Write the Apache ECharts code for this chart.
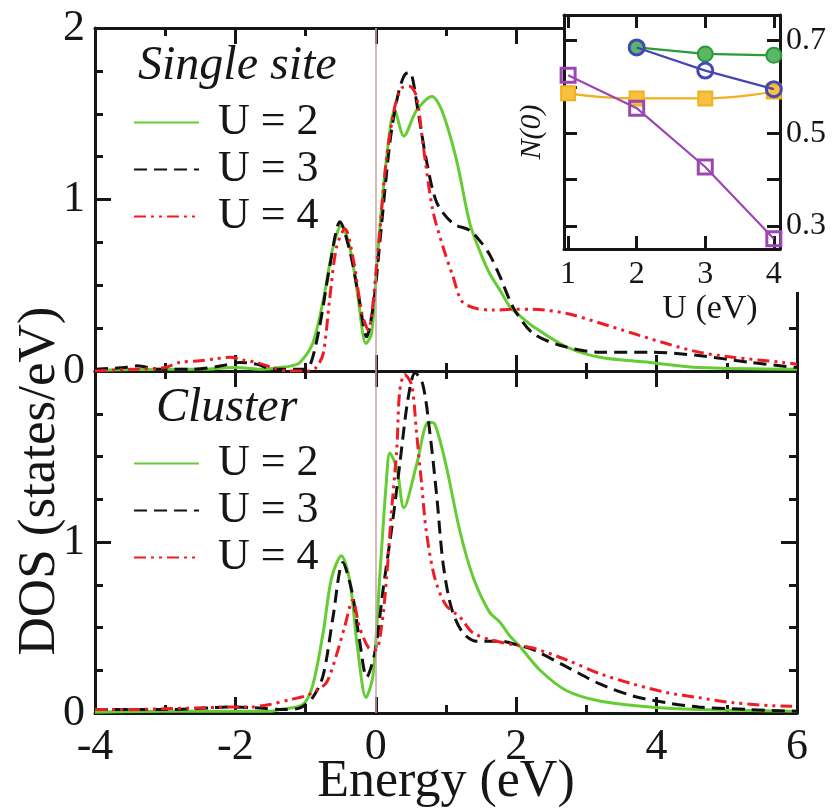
<!DOCTYPE html>
<html><head><meta charset="utf-8">
<script src="https://cdn.jsdelivr.net/npm/echarts@6/dist/echarts.min.js"></script>
<style>html,body{margin:0;padding:0;background:#fff}#c{width:834px;height:811px}</style>
</head><body><div id="c"></div>
<script>
// ---------- data ----------
const seriesNames = ['U = 2', 'U = 3', 'U = 4'];
const energyTicks = [-4, -2, 0, 2, 4, 6];
const dosTicks = [0, 1, 2];

// Single site DOS: [energy (eV), DOS (states/eV)]
const singleU2 = [[-4,0.005],[-3,0.01],[-2.5,0.01],[-2,0.02],[-1.6,0.01],[-1.37,0.02],[-1.2,0.03],[-1.08,0.05],[-0.9,0.16],[-0.75,0.41],[-0.61,0.72],[-0.49,0.85],[-0.37,0.72],[-0.26,0.45],[-0.14,0.16],[-0.06,0.22],[0.03,0.70],[0.15,1.23],[0.27,1.52],[0.4,1.37],[0.58,1.52],[0.8,1.60],[0.94,1.52],[1.15,1.23],[1.34,0.86],[1.5,0.68],[1.62,0.57],[1.77,0.47],[1.9,0.38],[2.0,0.34],[2.24,0.26],[2.72,0.14],[3.19,0.08],[3.9,0.05],[4.6,0.02],[6,0.01]];
const singleU3 = [[-4,0.01],[-3.6,0.02],[-3.4,0.03],[-3.1,0.01],[-2.6,0.01],[-2.2,0.03],[-1.95,0.05],[-1.7,0.04],[-1.45,0.01],[-1.05,0.01],[-0.94,0.03],[-0.8,0.26],[-0.66,0.60],[-0.51,0.87],[-0.37,0.70],[-0.25,0.45],[-0.13,0.20],[-0.03,0.40],[0.06,0.76],[0.2,1.33],[0.3,1.58],[0.39,1.71],[0.46,1.74],[0.51,1.73],[0.6,1.52],[0.72,1.23],[0.87,0.98],[1.1,0.86],[1.34,0.82],[1.5,0.75],[1.62,0.68],[1.77,0.55],[1.9,0.42],[2.0,0.34],[2.24,0.22],[2.62,0.15],[3.19,0.11],[3.9,0.11],[4.6,0.09],[5.33,0.05],[6,0.02]];
const singleU4 = [[-4,0.0],[-3.5,0.01],[-3.0,0.02],[-2.8,0.05],[-2.5,0.06],[-2.3,0.07],[-2.08,0.08],[-1.9,0.065],[-1.7,0.05],[-1.47,0.02],[-1.25,0.0],[-0.95,0.0],[-0.85,0.02],[-0.75,0.10],[-0.66,0.41],[-0.56,0.72],[-0.44,0.83],[-0.32,0.65],[-0.2,0.34],[-0.11,0.24],[0.01,0.61],[0.15,1.23],[0.27,1.54],[0.37,1.65],[0.48,1.66],[0.58,1.6],[0.67,1.33],[0.81,0.94],[0.96,0.72],[1.1,0.55],[1.22,0.41],[1.38,0.37],[1.67,0.355],[1.95,0.36],[2.24,0.36],[2.72,0.335],[3.19,0.28],[3.66,0.22],[4.14,0.16],[4.6,0.11],[5.09,0.08],[5.8,0.05],[6,0.04]];

// Cluster DOS
const clusterU2 = [[-4,0.005],[-3,0.01],[-2,0.01],[-1.5,0.01],[-1.37,0.02],[-1.04,0.05],[-0.9,0.16],[-0.75,0.47],[-0.63,0.79],[-0.49,0.92],[-0.37,0.77],[-0.26,0.38],[-0.14,0.09],[-0.04,0.22],[0.06,0.82],[0.15,1.35],[0.2,1.52],[0.3,1.43],[0.4,1.2],[0.58,1.45],[0.75,1.70],[0.84,1.69],[1.0,1.45],[1.2,1.06],[1.39,0.79],[1.62,0.59],[1.77,0.53],[1.91,0.45],[2.05,0.39],[2.34,0.25],[2.72,0.13],[3.19,0.07],[3.9,0.035],[4.6,0.02],[6,0.01]];
const clusterU3 = [[-4,0.02],[-3,0.02],[-2.0,0.035],[-1.7,0.03],[-1.3,0.02],[-1.08,0.03],[-0.9,0.09],[-0.75,0.22],[-0.61,0.56],[-0.47,0.88],[-0.34,0.71],[-0.23,0.42],[-0.13,0.21],[-0.01,0.36],[0.1,0.71],[0.24,1.12],[0.34,1.45],[0.46,1.84],[0.56,1.99],[0.67,1.92],[0.77,1.64],[0.87,1.26],[0.96,0.87],[1.08,0.61],[1.24,0.47],[1.44,0.42],[1.77,0.42],[2.0,0.40],[2.24,0.37],[2.72,0.27],[3.19,0.17],[3.66,0.10],[4.14,0.06],[4.6,0.035],[5.33,0.02],[6,0.01]];
const clusterU4 = [[-4,0.02],[-3.5,0.02],[-3,0.025],[-2.5,0.03],[-2,0.035],[-1.8,0.035],[-1.51,0.05],[-1.2,0.08],[-1.0,0.1],[-0.85,0.13],[-0.7,0.18],[-0.56,0.34],[-0.44,0.51],[-0.33,0.66],[-0.23,0.50],[-0.1,0.38],[0.0,0.37],[0.08,0.5],[0.15,0.77],[0.22,1.16],[0.3,1.55],[0.34,1.88],[0.41,1.98],[0.51,1.92],[0.58,1.64],[0.65,1.35],[0.72,1.06],[0.84,0.79],[1.0,0.63],[1.2,0.56],[1.38,0.47],[1.62,0.43],[1.95,0.40],[2.24,0.38],[2.72,0.31],[3.19,0.23],[3.66,0.17],[4.14,0.12],[4.6,0.09],[5.09,0.06],[5.9,0.04],[6,0.04]];

// Inset: N(0) vs U
const insetU = [1, 2, 3, 4];
const insetGreen  = [null, 0.685, 0.671, 0.668];
const insetBlue   = [null, 0.685, 0.635, 0.595];
const insetPurple = [0.625, 0.554, 0.427, 0.272];
const insetOrange = [0.586, 0.575, 0.575, 0.590];
const insetYTicks = [0.3, 0.4, 0.5, 0.6, 0.7];
const insetYLabels = [0.3, 0.5, 0.7];

// ---------- chart ----------
const FONT = '"Liberation Serif", "Times New Roman", Times, serif';
const INK = '#161616';
const pairs = (xs, ys) => xs.map((x, i) => [x, ys[i]]).filter(p => p[1] !== null);

const chart = echarts.init(document.getElementById('c'), null, {renderer: 'canvas'});

const axisLineStyle = {show: true, onZero: false, lineStyle: {color: INK, width: 3}};

function mainX(grid, pos, labels) {
  return {
    type: 'value', gridIndex: grid, position: pos, min: -4, max: 6, interval: 2,
    axisLine: axisLineStyle,
    axisTick: {show: true, inside: true, length: 16, lineStyle: {color: INK, width: 3}},
    minorTick: {show: true, splitNumber: 2, length: 8, lineStyle: {color: INK, width: 3}},
    axisLabel: {show: labels, margin: 12, fontFamily: FONT, fontSize: 44, color: INK,
      formatter: v => energyTicks.includes(v) ? String(v) : ''},
    splitLine: {show: false}
  };
}
function mainY(grid, pos, labels, hideMax) {
  return {
    type: 'value', gridIndex: grid, position: pos, min: 0, max: 2, interval: 1,
    axisLine: axisLineStyle,
    axisTick: {show: true, inside: true, length: 16, lineStyle: {color: INK, width: 3}},
    minorTick: {show: true, splitNumber: 4, length: 8, lineStyle: {color: INK, width: 3}},
    axisLabel: {show: labels, margin: 10, fontFamily: FONT, fontSize: 44, color: INK,
      showMaxLabel: !hideMax,
      formatter: v => dosTicks.includes(v) ? String(v) : ''},
    splitLine: {show: false}
  };
}
const insetAxisCommon = {
  axisLine: axisLineStyle,
  splitLine: {show: false}, z: 12
};
function insetX(pos, labels) {
  return Object.assign({}, insetAxisCommon, {
    type: 'value', gridIndex: 2, position: pos, min: 0.94, max: 4.09,
    axisTick: {show: true, inside: true, length: 13, customValues: insetU, lineStyle: {color: INK, width: 3}},
    axisLabel: {show: labels, customValues: insetU, margin: 10, fontFamily: FONT, fontSize: 32, color: INK},
    name: labels ? 'U (eV)' : '', nameLocation: 'middle', nameGap: 43,
    nameTextStyle: {fontFamily: FONT, fontSize: 34, color: INK, padding: [0, 0, 0, 76]}
  });
}
function insetY(pos, labels) {
  return Object.assign({}, insetAxisCommon, {
    type: 'value', gridIndex: 2, position: pos, min: 0.25, max: 0.755,
    axisTick: {show: true, inside: true, length: 13, customValues: insetYTicks, lineStyle: {color: INK, width: 3}},
    axisLabel: {show: labels, customValues: insetYLabels, margin: 6, fontFamily: FONT, fontSize: 32, color: INK,
      formatter: v => v.toFixed(1)},
    name: pos === 'left' ? 'N(0)' : '', nameLocation: 'middle', nameGap: 17, nameRotate: 90,
    nameTextStyle: {fontFamily: FONT, fontSize: 30, fontStyle: 'italic', color: INK}
  });
}

function dosLine(name, data, xi, yi, kind) {
  const styles = {
    g: {color: '#66cc33', width: 3, type: 'solid'},
    k: {color: '#111111', width: 3, type: [13, 7]},
    r: {color: '#ee1c25', width: 3, type: [12, 5, 3, 5, 3, 5]}
  };
  return {
    type: 'line', name: name, data: data, xAxisIndex: xi, yAxisIndex: yi,
    showSymbol: false, symbol: 'none', smooth: 0.3, clip: true,
    lineStyle: styles[kind], itemStyle: {color: styles[kind].color},
    z: kind === 'g' ? 3 : (kind === 'k' ? 4 : 5)
  };
}
function zeroLine() {
  return {silent: true, symbol: 'none', label: {show: false},
    lineStyle: {color: '#c9a2a2', width: 1.5, type: 'solid'}, data: [{xAxis: 0}]};
}

const top1 = dosLine('U = 2', singleU2, 0, 0, 'g'); top1.markLine = zeroLine();
const bot1 = dosLine('U = 2', clusterU2, 2, 2, 'g'); bot1.markLine = zeroLine();

function insetSeries(name, ys, color, symbol, filled, smooth, z) {
  return {
    type: 'line', name: name, xAxisIndex: 4, yAxisIndex: 4, data: pairs(insetU, ys),
    symbol: symbol, symbolSize: symbol === 'rect' ? 14 : 15, showSymbol: true, smooth: smooth,
    lineStyle: {color: color, width: 2.2},
    itemStyle: filled ? {color: filled, borderColor: color, borderWidth: 2}
                      : {color: 'rgba(255,255,255,0)', borderColor: color, borderWidth: 3},
    z: z, clip: false
  };
}

const legendBase = {
  orient: 'vertical', left: 133, padding: 0, itemWidth: 65, itemHeight: 12, itemGap: 0,
  selectedMode: false, data: seriesNames,
  itemStyle: {opacity: 0},
  textStyle: {fontFamily: FONT, fontSize: 44, color: INK, lineHeight: 47, padding: [0, 0, 0, 14]}
};

chart.setOption({
  backgroundColor: '#fff',
  animation: false,
  grid: [
    {left: 95, top: 28, width: 702, height: 343},
    {left: 95, top: 371, width: 702, height: 342},
    {left: 564, top: 15, width: 216, height: 234, show: true, backgroundColor: '#fff', borderWidth: 0, z: 10}
  ],
  xAxis: [mainX(0, 'bottom', false), mainX(0, 'top', false), mainX(1, 'bottom', true), mainX(1, 'top', false),
    insetX('bottom', true), insetX('top', false)],
  yAxis: [mainY(0, 'left', true, false), mainY(0, 'right', false, false), mainY(1, 'left', true, true), mainY(1, 'right', false, false),
    insetY('left', false), insetY('right', true)],
  legend: [
    Object.assign({}, legendBase, {top: 99}),
    Object.assign({}, legendBase, {top: 440})
  ],
  graphic: [
    {type: 'rect', z: 8, silent: true, shape: {x: 563, y: 0, width: 271, height: 292}, style: {fill: '#fff'}},
    {type: 'text', z: 20, x: 138, y: 66, style: {text: 'Single site', fontFamily: FONT, fontStyle: 'italic', fontSize: 48, fill: INK, verticalAlign: 'middle'}},
    {type: 'text', z: 20, x: 156, y: 408, style: {text: 'Cluster', fontFamily: FONT, fontStyle: 'italic', fontSize: 48, fill: INK, verticalAlign: 'middle'}},
    {type: 'text', z: 20, x: 40, y: 481, rotation: Math.PI / 2, style: {text: 'DOS (states/eV)', fontFamily: FONT, fontSize: 53, fill: INK, align: 'center', verticalAlign: 'middle'}},
    {type: 'text', z: 20, x: 446, y: 782, style: {text: 'Energy (eV)', fontFamily: FONT, fontSize: 52, fill: INK, align: 'center', verticalAlign: 'middle'}}
  ],
  series: [
    top1,
    dosLine('U = 3', singleU3, 0, 0, 'k'),
    dosLine('U = 4', singleU4, 0, 0, 'r'),
    bot1,
    dosLine('U = 3', clusterU3, 2, 2, 'k'),
    dosLine('U = 4', clusterU4, 2, 2, 'r'),
    insetSeries('N0 orange', insetOrange, '#f2b01e', 'rect', '#f6c040', true, 13),
    insetSeries('N0 purple', insetPurple, '#9b47b3', 'rect', null, false, 14),
    insetSeries('N0 green', insetGreen, '#2a9a3a', 'circle', '#5bb765', false, 15),
    insetSeries('N0 blue', insetBlue, '#4646b4', 'circle', null, false, 16)
  ]
});
</script></body></html>
